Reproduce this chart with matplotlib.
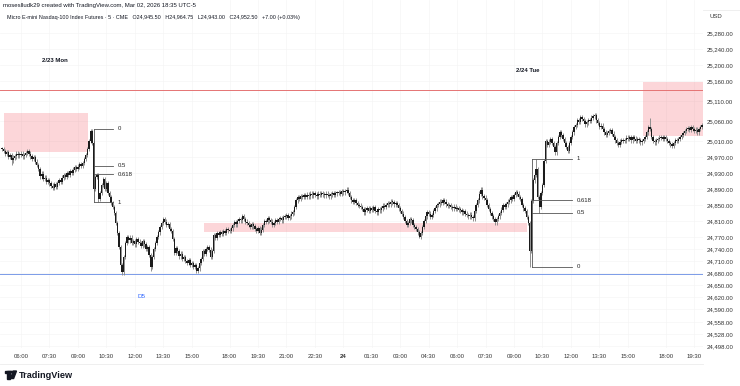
import matplotlib.pyplot as plt
import numpy as np
from matplotlib.patches import Rectangle, Polygon, Circle
from matplotlib.transforms import Bbox, TransformedBbox

plt.rcParams['font.family'] = ['Liberation Sans', 'DejaVu Sans']

# 5 minute closes, one row per hour. bar 0 = 2/23 06:00 (session break 17:00-18:00 removed)
first_bar = -12
mon_closes = [
    24990, 24985, 24978, 24982, 24970, 24975, 24962, 24968, 24972, 24978, 24974, 24976,
    24978, 24972, 24975, 24980, 24984, 24978, 24972, 24966, 24970, 24958, 24950, 24940,
    24922, 24928, 24915, 24918, 24908, 24912, 24904, 24898, 24893, 24902, 24896, 24905,
    24912, 24908, 24918, 24925, 24920, 24930, 24926, 24935, 24930, 24938, 24945, 24940,
    24946, 24952, 24948, 24955, 24965, 24975, 24990, 25010, 25035, 25005, 24890, 24920,
    24925, 24865, 24880, 24900, 24915, 24890, 24905, 24880, 24870, 24855, 24845, 24830,
    24805, 24780, 24745, 24700, 24682, 24720, 24755, 24770, 24762, 24768, 24755, 24760,
    24752, 24765, 24758, 24755, 24748, 24760, 24752, 24740, 24745, 24725, 24695, 24720,
    24740, 24755, 24770, 24782, 24795, 24805, 24815, 24808, 24800, 24802, 24790, 24785,
    24765, 24730, 24742, 24735, 24722, 24728, 24715, 24720, 24710, 24705, 24712, 24700,
    24705, 24695, 24700, 24686, 24692, 24705, 24715, 24735, 24728, 24740, 24745, 24738,
    24720, 24735, 24775, 24768, 24780, 24775, 24782, 24778, 24785, 24780, 24790, 24787,
]
tue_closes = [
    24785, 24792, 24800, 24807, 24802, 24810, 24815, 24812, 24822, 24815, 24808, 24805,
    24800, 24795, 24802, 24797, 24790, 24785, 24792, 24780, 24788, 24800, 24810, 24808,
    24817, 24812, 24808, 24800, 24805, 24812, 24808, 24815, 24817, 24812, 24820, 24822,
    24825, 24818, 24822, 24828, 24832, 24845, 24862, 24870, 24865, 24872, 24870, 24874,
    24870, 24876, 24872, 24878, 24874, 24880, 24876, 24872, 24878, 24875, 24880, 24877,
    24874, 24878, 24875, 24872, 24877, 24880, 24876, 24879, 24880, 24882, 24878, 24884,
    24882, 24885, 24888, 24880, 24870, 24862, 24858, 24862, 24855, 24850, 24848, 24845,
    24840, 24832, 24838, 24842, 24835, 24842, 24838, 24845, 24835, 24832, 24840, 24837,
    24842, 24848, 24845, 24850, 24855, 24852, 24858, 24857, 24852, 24855, 24850, 24842,
    24835, 24828, 24820, 24810, 24800, 24805, 24815, 24812, 24800, 24795, 24790, 24782,
    24770, 24780, 24795, 24810, 24822, 24832, 24828, 24820, 24825, 24835, 24842, 24850,
    24852, 24858, 24855, 24862, 24858, 24852, 24848, 24850, 24845, 24842, 24846, 24840,
    24842, 24838, 24837, 24832, 24835, 24828, 24825, 24822, 24826, 24820, 24817, 24835,
    24850, 24862, 24878, 24888, 24872, 24868, 24862, 24850, 24840, 24830, 24822, 24815,
    24807, 24815, 24822, 24830, 24838, 24850, 24845, 24852, 24858, 24862, 24870, 24866,
    24875, 24882, 24878, 24870, 24865, 24850, 24842, 24835, 24820, 24805, 24735, 24860,
    24912, 24925, 24940, 24870, 24845, 24880, 24900, 24960, 25010, 25000, 25008, 25015,
    25005, 24995, 24982, 25005, 25020, 25032, 25025, 25015, 25005, 24995, 24985, 25005,
    25020, 25032, 25045, 25050, 25062, 25058, 25070, 25065, 25060, 25052, 25057, 25062,
    25060, 25068, 25072, 25075, 25062, 25055, 25045, 25048, 25040, 25032, 25025, 25030,
    25035, 25037, 25028, 25020, 25012, 25005, 25000, 25008, 25012, 25010, 25012, 25018,
    25015, 25020, 25012, 25020, 25016, 25010, 25015, 25012, 25007, 25010, 25015, 25020,
    25032, 25045, 25040, 25020, 25010, 25007, 25012, 25015, 25018, 25020, 25016, 25020,
]
tue_eve_closes = [
    25015, 25010, 25005, 25002, 24998, 25005, 25012, 25010, 25015, 25020, 25025, 25030,
    25035, 25040, 25042, 25038, 25045, 25040, 25035, 25038, 25032, 25040, 25045, 25050,
]

# longer wicks seen on the chart
extra_highs = {44: 25040, 291: 24895, 326: 24965, 398: 25067}
extra_lows = {-6: 24950, 49: 24857, 64: 24675, 82: 24685, 111: 24680,
              252: 24767, 322: 24695, 328: 24830}

# drawings
zone_bars = [(-10.8, 42.4), (115.8, 320.3), (393.7, 440)]
zone_prices = [(24982.5, 25080), (24782.5, 24805), (25022.5, 25157.5)]
blue_level = 24677.5
red_level = 25137.5
fib_levels = ['0', '0.5', '0.618', '1']
fib1_lo, fib1_hi = 24857, 25040
fib2_lo, fib2_hi = 24695, 24965

tick_bars = [0, 18, 36, 54, 72, 90, 108, 132, 150, 168, 186, 204, 222, 240,
             258, 276, 294, 312, 330, 348, 366, 384, 408, 426]
tick_labels = ['06:00', '07:30', '09:00', '10:30', '12:00', '13:30', '15:00', '18:00',
               '19:30', '21:00', '22:30', '24', '01:30', '03:00', '04:30', '06:00',
               '07:30', '09:00', '10:30', '12:00', '13:30', '15:00', '18:00', '19:30']
price_ticks = [25280, 25240, 25200, 25160, 25110, 25060, 25010, 24970, 24930, 24890,
               24850, 24810, 24770, 24740, 24710, 24680, 24650, 24620, 24590, 24558,
               24528, 24498]

closes = np.array(mon_closes + tue_closes + tue_eve_closes, dtype=float)
x = np.arange(len(closes)) + first_bar
opens = np.concatenate([[closes[0]], closes[:-1]])
highs = np.maximum(opens, closes) + 6
lows = np.minimum(opens, closes) - 6
for b, v in extra_highs.items():
    highs[b - first_bar] = v
for b, v in extra_lows.items():
    lows[b - first_bar] = v

W, H = 740, 386
fig = plt.figure(figsize=(W / 100, H / 100), dpi=100)
ax = fig.add_axes([0, (H - 348) / H, 703 / W, 348 / H])
ax.set_xlim(-13.3, 431.6)
ax.set_ylim(24492.5, 25362.5)

ax.set_xticks(tick_bars)
ax.set_xticklabels(tick_labels)
ax.set_yticks(price_ticks)
ax.set_yticklabels([f'{p:,.2f}' for p in price_ticks])
ax.yaxis.tick_right()
ax.tick_params(axis='y', length=0, pad=2.5, labelsize=4.3, labelcolor='#333333')
ax.tick_params(axis='x', length=0, pad=4, labelsize=4.3, labelcolor='#333333')
for lab in ax.get_xticklabels():
    if lab.get_text() == '24':
        lab.set_fontweight('bold')
clip = TransformedBbox(Bbox([[0, 0], [701 / W, 1]]), fig.transFigure)
for lab in ax.get_xticklabels():
    lab.set_clip_on(True)
    lab.set_clip_box(clip)
ax.grid(True, color='#f5f5f5', lw=0.5)
ax.set_axisbelow(True)
for s in ax.spines.values():
    s.set_visible(False)

# zones
for (b0, b1), (p0, p1) in zip(zone_bars, zone_prices):
    ax.add_patch(Rectangle((b0, p0), b1 - b0, p1 - p0, facecolor='#f23645', alpha=0.2,
                           edgecolor='none', zorder=1))
ax.axhline(blue_level, color='#7b9be8', lw=0.7, zorder=2)
ax.axhline(red_level, color='#e57373', lw=0.7, zorder=2)

# candles
ax.vlines(x, lows, highs, color='#8f8f8f', lw=0.7, zorder=3)
body = np.maximum(np.abs(closes - opens), 2.5)
ax.bar(x, body, bottom=np.minimum(opens, closes), width=0.85, color='#1b1b1b', lw=0, zorder=4)

# fib retracements
def draw_fib(b0, b1, lo, hi, lab_x, vert):
    for name in fib_levels:
        lvl = hi - float(name) * (hi - lo) if vert == 'down' else lo + float(name) * (hi - lo)
        ax.plot([b0, b1], [lvl, lvl], color='#555555', lw=0.6, zorder=5)
        ax.text(lab_x, lvl, name, fontsize=4.3, va='center', ha='left', color='#222222')
    ax.plot([b0, b0], [lo, hi], color='#555555', lw=0.6, zorder=5)

draw_fib(46.2, 58.2, fib1_lo, fib1_hi, 61.0, 'down')
draw_fib(323.4, 348.7, fib2_lo, fib2_hi, 351.5, 'up')

ax.text(13.3, 25210, '2/23 Mon', fontsize=4.3, fontweight='bold', va='center', color='#131722')
ax.text(313, 25187.5, '2/24 Tue', fontsize=4.3, fontweight='bold', va='center', color='#131722')
ax.text(76, 24622.5, 'D5', fontsize=4.5, va='center', ha='center', color='#2962ff')

# header and frame
def fx(px):
    return px / W

def fy(py):
    return 1 - py / H

fig.text(fx(3), fy(5), 'moseslludk29 created with TradingView.com, Mar 02, 2026 18:35 UTC-5',
         fontsize=4.3, va='center', color='#131722')
fig.text(fx(7), fy(18), 'Micro E-mini Nasdaq-100 Index Futures · 5 · CME   O24,945.50   H24,964.75   '
         'L24,943.00   C24,952.50   +7.00 (+0.03%)', fontsize=3.9, va='center', color='#131722')
fig.text(fx(709), fy(17), 'USD', fontsize=4.3, va='center', color='#333333')

fig.add_artist(plt.Line2D([fx(0), fx(703)], [fy(364), fy(364)], color='#ececec', lw=0.6))
fig.add_artist(plt.Line2D([fx(703), fx(740)], [fy(10), fy(10)], color='#ececec', lw=0.6))

# TradingView logo
logo = '#131722'
fig.add_artist(Rectangle((fx(5), fy(373)), fx(4.8), 2.2 / H, transform=fig.transFigure,
                         color=logo))
fig.add_artist(Rectangle((fx(7.3), fy(378.5)), fx(2.3), 7.5 / H, transform=fig.transFigure,
                         color=logo))
fig.add_artist(Circle((fx(11.3), fy(372)), 1.2 / W, transform=fig.transFigure, color=logo))
fig.add_artist(Polygon([(fx(13.2), fy(371)), (fx(16.5), fy(371)), (fx(13.6), fy(378.5)),
                        (fx(10.6), fy(378.5))], closed=True, transform=fig.transFigure,
                       color=logo))
fig.text(fx(19), fy(375), 'TradingView', fontsize=6.6, fontweight='bold', va='center',
         color=logo)

fig.savefig('out.png', dpi=100)
